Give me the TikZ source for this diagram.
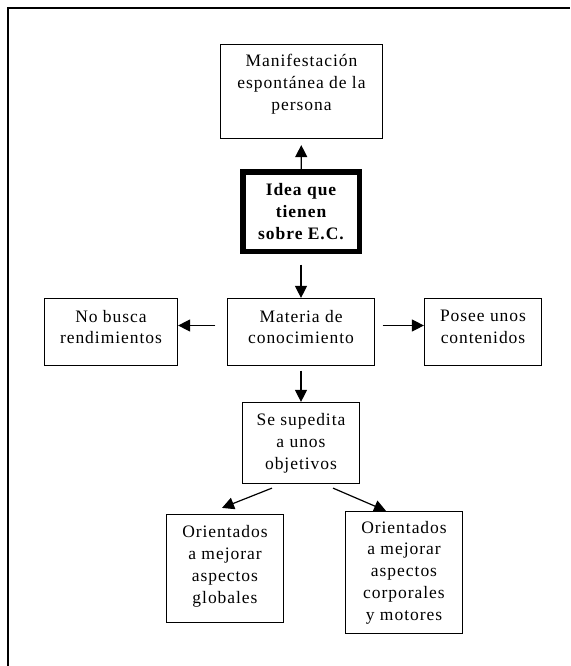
\documentclass[tikz,border=0pt]{standalone}
\usepackage{fontspec}
\setmainfont[LetterSpace=5.5]{Liberation Serif}
\usetikzlibrary{arrows.meta}

\tikzset{
  box/.style={draw, line width=1.2pt, align=center, inner sep=0pt,
    font=\fontsize{17.5}{21.8}\selectfont},
  arr/.style={line width=1.2pt, -{Triangle[width=12pt,length=12pt]}}
}

\begin{document}
\begin{tikzpicture}[x=1pt,y=-1pt]
		% page size of the picture
		\useasboundingbox (0,0) rectangle (570,666);
		
		% frame (only top and left sides)
		\draw[line width=1.6pt] (8,666) -- (8,8) -- (570,8);
		
		% boxes
		\node[box, minimum width=162pt, minimum height=94pt, text depth=18pt] (manif) at (301.5,91.5)
			{Manifestación\\espontánea de la\\persona};
		\node[box, line width=5.5pt, minimum width=116.5pt, minimum height=79.5pt,
			font=\fontsize{17.5}{21.8}\selectfont\bfseries] (idea) at (301,211.5)
			{Idea que\\tienen\\sobre E.C.};
		\node[box, minimum width=147pt, minimum height=67pt, text depth=10pt] (materia) at (301,332)
			{Materia de\\conocimiento};
		\node[box, minimum width=133pt, minimum height=67pt, text depth=10pt] (nobusca) at (111,332)
			{No busca\\rendimientos};
		\node[box, minimum width=117pt, minimum height=67pt, text depth=10pt] (posee) at (483,332)
			{Posee unos\\contenidos};
		\node[box, minimum width=117pt, minimum height=81pt] (sesup) at (301,443)
			{Se supedita\\a unos\\objetivos};
		\node[box, minimum width=117pt, minimum height=108pt, text depth=8pt] (globales) at (225,568.5)
			{Orientados\\a mejorar\\aspectos\\globales};
		\node[box, minimum width=117pt, minimum height=122pt] (motores) at (404,572.5)
			{Orientados\\a mejorar\\aspectos\\corporales\\y motores};
		
		% arrows
		\draw[arr, shorten >=6pt] (idea) -- (manif);
		\draw[arr, shorten <=10.5pt] (idea) -- (materia);
		\draw[arr, shorten <=11.5pt] ([yshift=6.5pt]materia.west) -- ([yshift=6.5pt]nobusca.east);
		\draw[arr, shorten <=7.5pt] ([yshift=6.5pt]materia.east) -- ([yshift=6.5pt]posee.west);
		\draw[arr, shorten <=4.5pt] (materia) -- (sesup);
		\draw[arr] ([xshift=-29pt,yshift=-4pt]sesup.south) -- ([xshift=-3pt,yshift=6pt]globales.north);
		\draw[arr] ([xshift=32pt,yshift=-4pt]sesup.south) -- ([xshift=-18pt]motores.north);
	\end{tikzpicture}
\end{document}
